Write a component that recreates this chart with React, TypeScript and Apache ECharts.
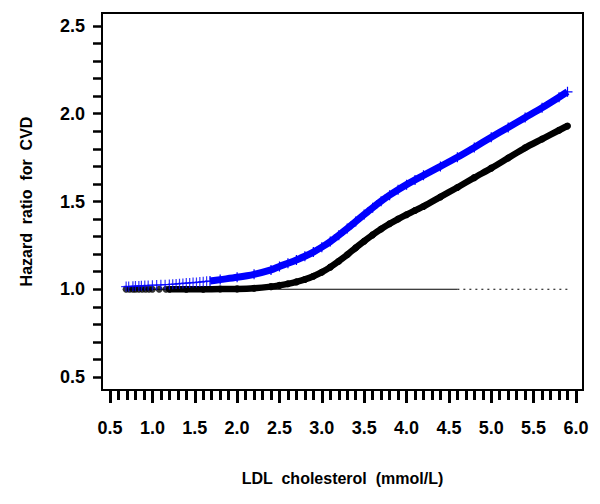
import React, { useEffect, useRef } from "react";
import * as echarts from "echarts";

// ---- Data ----
const X_TICK_LABELS = [0.5, 1.0, 1.5, 2.0, 2.5, 3.0, 3.5, 4.0, 4.5, 5.0, 5.5, 6.0];
const Y_TICK_LABELS = [0.5, 1.0, 1.5, 2.0, 2.5];

// Reference line at HR = 1.0 (solid part, then sparse/dotted part)
const REF_SOLID_X = [0.7, 4.6];
const REF_DOT_X = [4.6, 5.9];
const REF_Y = 1.0;

// Black circles (adjusted HR) – sparse left part
const BLACK_LEFT_X = [0.69, 0.73, 0.77, 0.8, 0.84, 0.88, 0.92, 0.96, 1.0, 1.08, 1.16];
const BLACK_LEFT_Y = [1.0, 1.0, 1.0, 1.0, 1.0, 1.0, 1.0, 1.0, 1.0, 1.0, 1.0];
// Black circles – dense part
const BLACK_X = [1.2, 1.4, 1.6, 1.8, 2.0, 2.2, 2.4, 2.5, 2.6, 2.7, 2.8, 2.9, 3.0, 3.1, 3.2, 3.3, 3.4, 3.5, 3.6, 3.7, 3.8, 3.9, 4.0, 4.1, 4.2, 4.4, 4.6, 4.8, 5.0, 5.2, 5.4, 5.6, 5.8, 5.9];
const BLACK_Y = [1.0, 1.0, 1.0, 1.001, 1.002, 1.006, 1.015, 1.022, 1.031, 1.042, 1.056, 1.074, 1.097, 1.126, 1.16, 1.197, 1.236, 1.274, 1.31, 1.343, 1.373, 1.4, 1.425, 1.449, 1.472, 1.526, 1.58, 1.636, 1.69, 1.748, 1.806, 1.856, 1.906, 1.93];

// Blue crosses (unadjusted HR) – sparse left part
const BLUE_LEFT_X = [0.69, 0.72, 0.77, 0.8, 0.84, 0.87, 0.91, 0.95, 1.0, 1.05, 1.1, 1.15, 1.2, 1.24, 1.28, 1.32, 1.36, 1.4, 1.44, 1.48, 1.52, 1.56, 1.6, 1.64];
const BLUE_LEFT_Y = [1.015, 1.016, 1.017, 1.018, 1.019, 1.02, 1.021, 1.022, 1.023, 1.024, 1.025, 1.026, 1.027, 1.029, 1.03, 1.032, 1.033, 1.035, 1.036, 1.038, 1.039, 1.041, 1.043, 1.045];
// Blue crosses – dense part
const BLUE_X = [1.68, 1.8, 2.0, 2.2, 2.4, 2.5, 2.6, 2.7, 2.8, 2.9, 3.0, 3.1, 3.2, 3.3, 3.4, 3.5, 3.6, 3.7, 3.8, 3.9, 4.0, 4.1, 4.2, 4.4, 4.6, 4.8, 5.0, 5.2, 5.4, 5.6, 5.8, 5.9];
const BLUE_Y = [1.047, 1.055, 1.068, 1.085, 1.11, 1.13, 1.148, 1.167, 1.188, 1.212, 1.24, 1.272, 1.308, 1.346, 1.386, 1.426, 1.465, 1.502, 1.536, 1.567, 1.596, 1.623, 1.649, 1.7, 1.752, 1.808, 1.866, 1.922, 1.978, 2.034, 2.094, 2.125];

const X_NAME = "LDL  cholesterol  (mmol/L)";
const Y_NAME = "Hazard  ratio  for  CVD";

const zip = (xs: number[], ys: number[]) => xs.map((x, i) => [x, ys[i]]);
const steps = (from: number, to: number, step: number) => {
  const out: number[] = [];
  const n = Math.round((to - from) / step);
  for (let i = 0; i <= n; i++) out.push(Math.round((from + i * step) * 100) / 100);
  return out;
};

const FONT = "'Liberation Sans', Arial, Helvetica, sans-serif";
const PLUS = "path://M0,4.4H10V5.6H0Z M4.4,0H5.6V10H4.4Z";

export default function App() {
  const ref = useRef<HTMLDivElement>(null);
  useEffect(() => {
    if (!ref.current) return;
    const chart = echarts.init(ref.current, undefined, { renderer: "svg" });
    const xMinorTicks = steps(0.5, 6.0, 0.1);
    const yMinorTicks = steps(0.5, 2.5, 0.1);
    const xMin = 0.405, xMax = 6.083, yMin = 0.426, yMax = 2.574;
    chart.setOption({
      animation: false,
      backgroundColor: "#fff",
      grid: {
        left: 102, right: 17, top: 13, bottom: 114,
        show: true, borderColor: "#000", borderWidth: 2, backgroundColor: "transparent",
      },
      xAxis: [
        {
          type: "value", min: xMin, max: xMax, position: "bottom",
          axisLine: { show: true, onZero: false, lineStyle: { color: "#000", width: 2 } },
          splitLine: { show: false },
          axisTick: { show: true, length: 13, customValues: X_TICK_LABELS, lineStyle: { color: "#000", width: 3 } },
          axisLabel: {
            customValues: X_TICK_LABELS, margin: 29,
            formatter: (v: number) => v.toFixed(1),
            color: "#000", fontFamily: FONT, fontWeight: "bold", fontSize: 18,
          },
          name: X_NAME, nameLocation: "middle", nameGap: 80,
          nameTextStyle: { color: "#000", fontFamily: FONT, fontWeight: "bold", fontSize: 16 },
        },
        {
          type: "value", min: xMin, max: xMax, position: "bottom", offset: 0,
          axisLine: { show: false },
          splitLine: { show: false },
          axisTick: { show: true, length: 10, customValues: xMinorTicks, lineStyle: { color: "#000", width: 3 } },
          axisLabel: { show: false },
        },
      ],
      yAxis: {
        type: "value", min: yMin, max: yMax,
        axisLine: { show: true, onZero: false, lineStyle: { color: "#000", width: 2 } },
        splitLine: { show: false },
        axisTick: { show: true, length: 9, customValues: yMinorTicks, lineStyle: { color: "#000", width: 2.5 } },
        axisLabel: {
          customValues: Y_TICK_LABELS, margin: 17,
          formatter: (v: number) => v.toFixed(1),
          color: "#000", fontFamily: FONT, fontWeight: "bold", fontSize: 18,
        },
        name: Y_NAME, nameLocation: "middle", nameGap: 68,
        nameTextStyle: { color: "#000", fontFamily: FONT, fontWeight: "bold", fontSize: 16 },
      },
      series: [
        {
          type: "line", data: zip(REF_SOLID_X, REF_SOLID_X.map(() => REF_Y)),
          showSymbol: false, lineStyle: { color: "#000", width: 1 }, z: 1,
        },
        {
          type: "line", data: zip(REF_DOT_X, REF_DOT_X.map(() => REF_Y)),
          showSymbol: false, lineStyle: { color: "#000", width: 1, type: [2, 4] }, z: 1,
        },
        {
          type: "scatter", data: zip(BLACK_LEFT_X, BLACK_LEFT_Y),
          symbol: "circle", symbolSize: 7, itemStyle: { color: "#000" }, z: 2,
        },
        {
          type: "line", data: zip(BLACK_X, BLACK_Y), smooth: 0.3,
          symbol: "circle", symbolSize: 7, showSymbol: true,
          itemStyle: { color: "#000" }, lineStyle: { color: "#000", width: 6.5 }, z: 2,
        },
        {
          type: "scatter", data: zip(BLUE_LEFT_X, BLUE_LEFT_Y),
          symbol: PLUS, symbolSize: 10, itemStyle: { color: "#0000ff" }, z: 3,
        },
        {
          type: "line", data: zip(BLUE_X, BLUE_Y), smooth: 0.3,
          symbol: PLUS, symbolSize: 10, showSymbol: true,
          itemStyle: { color: "#0000ff" }, lineStyle: { color: "#0000ff", width: 7 }, z: 3,
        },
      ],
    });
    return () => chart.dispose();
  }, []);
  return <div ref={ref} style={{ width: 600, height: 504, position: "absolute", left: 0, top: 0 }} />;
}
